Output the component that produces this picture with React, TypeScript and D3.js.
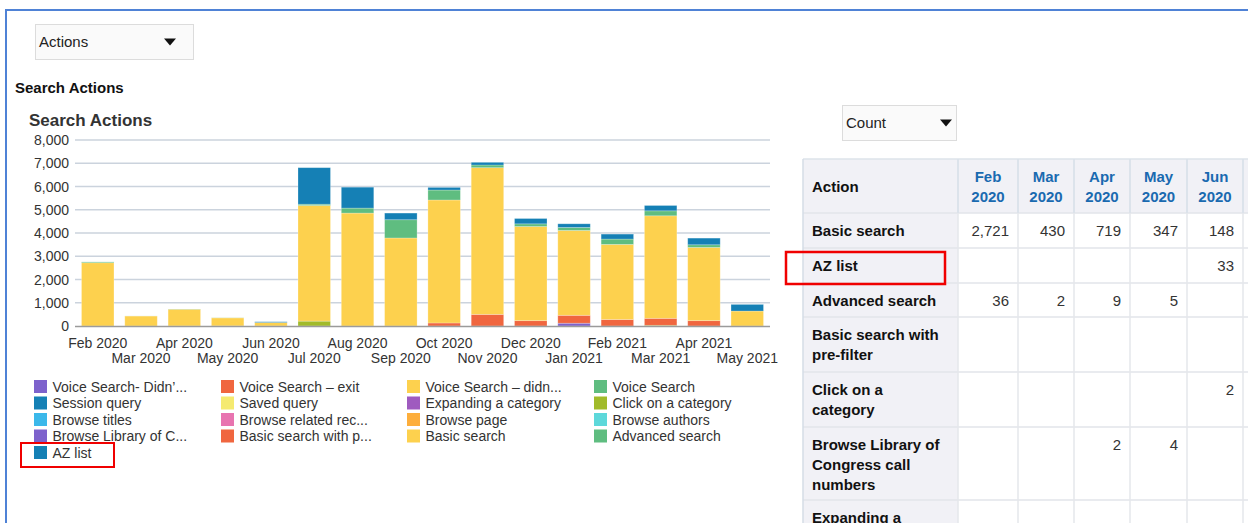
import * as d3 from 'd3';

const FONT = '"Liberation Sans", Arial, Helvetica, sans-serif';

const months = [
  'Feb 2020', 'Mar 2020', 'Apr 2020', 'May 2020', 'Jun 2020', 'Jul 2020', 'Aug 2020', 'Sep 2020',
  'Oct 2020', 'Nov 2020', 'Dec 2020', 'Jan 2021', 'Feb 2021', 'Mar 2021', 'Apr 2021', 'May 2021',
];

// legend order = stacking order (first at the bottom)
const seriesNames = [
  'Voice Search- Didn\u2019...', 'Voice Search \u2013 exit', 'Voice Search \u2013 didn...', 'Voice Search',
  'Session query', 'Saved query', 'Expanding a category', 'Click on a category',
  'Browse titles', 'Browse related rec...', 'Browse page', 'Browse authors',
  'Browse Library of C...', 'Basic search with p...', 'Basic search', 'Advanced search',
  'AZ list',
];
const seriesColors = [
  '#7d62cc', '#f0663f', '#fdd14e', '#5fbd80',
  '#1580b5', '#f5ea70', '#9f5bbf', '#a1bb2a',
  '#3bb8ea', '#e874b0', '#fdae3b', '#5dd8da',
  '#7d62cc', '#f0663f', '#fdd14e', '#5fbd80',
  '#1580b5',
];

const clickOnCategory = [0, 0, 0, 0, 2, 210, 0, 0, 0, 0, 0, 0, 0, 30, 0, 0];
const browseLibrary = [0, 0, 2, 4, 0, 0, 0, 0, 0, 0, 0, 120, 0, 0, 0, 0];
const basicPreFilter = [0, 0, 0, 0, 0, 0, 0, 0, 130, 500, 230, 340, 280, 300, 230, 0];
const basicSearch = [2721, 430, 719, 347, 148, 4972, 4857, 3786, 5290, 6310, 4050, 3650, 3230, 4410, 3150, 643];
const advancedSearch = [36, 2, 9, 5, 0, 57, 214, 785, 428, 115, 114, 129, 229, 214, 114, 0];
const azList = [0, 0, 0, 0, 33, 1571, 900, 286, 114, 114, 229, 157, 214, 229, 286, 286];

const seriesValues: Record<string, number[]> = {
  'Click on a category': clickOnCategory,
  'Browse Library of C...': browseLibrary,
  'Basic search with p...': basicPreFilter,
  'Basic search': basicSearch,
  'Advanced search': advancedSearch,
  'AZ list': azList,
};

const yTicks = [0, 1000, 2000, 3000, 4000, 5000, 6000, 7000, 8000];

// table on the right
const tableMonths = [['Feb', '2020'], ['Mar', '2020'], ['Apr', '2020'], ['May', '2020'], ['Jun', '2020']];
const tableLabels = [
  ['Basic search'],
  ['AZ list'],
  ['Advanced search'],
  ['Basic search with', 'pre-filter'],
  ['Click on a', 'category'],
  ['Browse Library of', 'Congress call', 'numbers'],
  ['Expanding a', 'category'],
];
const tableValues: (number | null)[][] = [
  [2721, 430, 719, 347, 148],
  [null, null, null, null, 33],
  [36, 2, 9, 5, null],
  [null, null, null, null, null],
  [null, null, null, null, 2],
  [null, null, 2, 4, null],
  [null, null, null, null, null],
];

const colEdges = [803, 958, 1018, 1074, 1130, 1187, 1243, 1320];
const rowEdges = [159, 213, 248, 283, 317, 372, 427, 500, 570];

function Dropdown({ x, y, w, h, label, arrowX }: { x: number; y: number; w: number; h: number; label: string; arrowX: number }) {
  const ay = y + h / 2 - 3;
  return (
    <g>
      <rect x={x + 0.5} y={y + 0.5} width={w} height={h} fill="#fafafa" stroke="#dcdcdc" />
      <text x={x + 4} y={y + h / 2 + 5.5} fontSize={15} fill="#222">{label}</text>
      <path d={`M${arrowX},${ay} L${arrowX + 12},${ay} L${arrowX + 6},${ay + 7} Z`} fill="#111" />
    </g>
  );
}

export default function App() {
  const x = d3.scaleBand<string>().domain(months).range([75, 770]).paddingInner(0.25).paddingOuter(0.15);
  const y = d3.scaleLinear().domain([0, 8000]).range([326, 140]);

  const rows = months.map((m, i) => {
    const r: Record<string, number | string> = { month: m };
    seriesNames.forEach((s) => (r[s] = seriesValues[s] ? seriesValues[s][i] : 0));
    return r;
  });
  const stacked = d3.stack<Record<string, number | string>>().keys(seriesNames)(rows as any);
  const fmt = d3.format(',');

  return (
    <svg width={1248} height={523} style={{ position: 'absolute', left: 0, top: 0, fontFamily: FONT }}>
      <rect width={1248} height={523} fill="#fff" />
      {/* frame */}
      <path d="M6,523 L6,10 L1248,10" fill="none" stroke="#4f82d6" strokeWidth={2} />

      <Dropdown x={35} y={24} w={158} h={35} label="Actions" arrowX={164} />
      <text x={15} y={93} fontSize={15} fontWeight="bold" fill="#111">Search Actions</text>
      <text x={29} y={126} fontSize={17} fontWeight="bold" fill="#333">Search Actions</text>

      {/* grid + y ticks */}
      {yTicks.map((t) => (
        <g key={t}>
          {t > 0 && <line x1={75} x2={770} y1={y(t)} y2={y(t)} stroke="#cbd3dd" strokeWidth={1.3} />}
          <text x={69} y={y(t) + 5} fontSize={14} fill="#333" textAnchor="end">{fmt(t)}</text>
        </g>
      ))}

      {/* bars */}
      {stacked.map((layer, si) => (
        <g key={layer.key} fill={seriesColors[si]}>
          {layer.map((d, i) =>
            d[1] - d[0] > 0 ? (
              <rect
                key={i}
                x={x(months[i])!}
                y={y(d[1])}
                width={x.bandwidth()}
                height={y(d[0]) - y(d[1])}
                stroke="#ffffff"
                strokeOpacity={0.3}
                strokeWidth={0.8}
              />
            ) : null,
          )}
        </g>
      ))}
      <line x1={75} x2={770} y1={326.5} y2={326.5} stroke="#9b9b9b" strokeWidth={1.5} />

      {/* x labels, staggered */}
      {months.map((m, i) => (
        <text
          key={m}
          x={x(m)! + x.bandwidth() / 2}
          y={i % 2 === 0 ? 348 : 363}
          fontSize={14}
          fill="#333"
          textAnchor="middle"
        >
          {m}
        </text>
      ))}

      {/* legend */}
      {seriesNames.map((s, i) => {
        const col = i % 4;
        const row = Math.floor(i / 4);
        const lx = [34, 221, 407, 594][col];
        const ly = 386.5 + row * 16.5;
        return (
          <g key={s + i}>
            <rect x={lx} y={ly - 6.5} width={13} height={13} fill={seriesColors[i]} />
            <text x={lx + 18.5} y={ly + 5} fontSize={14} fill="#333">{s}</text>
          </g>
        );
      })}
      <rect x={21} y={443} width={93} height={24} fill="none" stroke="#f00000" strokeWidth={2} />

      {/* right side */}
      <Dropdown x={842} y={105} w={114} h={35} label="Count" arrowX={940} />

      {/* table backgrounds */}
      <rect x={colEdges[0]} y={rowEdges[0]} width={1248 - colEdges[0]} height={rowEdges[1] - rowEdges[0]} fill="#f1f1f6" />
      <rect x={colEdges[0]} y={rowEdges[1]} width={colEdges[1] - colEdges[0]} height={523 - rowEdges[1]} fill="#f1f1f6" />
      {rowEdges.slice(1, -1).map((ry) => (
        <line key={ry} x1={colEdges[0]} x2={1248} y1={ry} y2={ry} stroke="#e2e5ea" strokeWidth={1.5} />
      ))}
      <line x1={colEdges[0]} x2={1248} y1={rowEdges[0]} y2={rowEdges[0]} stroke="#dde3ea" strokeWidth={1.5} />
      {colEdges.slice(0, -1).map((cx, i) => (
        <line
          key={cx}
          x1={cx}
          x2={cx}
          y1={rowEdges[0]}
          y2={523}
          stroke={i === 0 ? '#d5dce6' : '#e4e7eb'}
          strokeWidth={1.5}
        />
      ))}
      {[1, 2, 3, 4, 5, 6].map((i) => (
        <line key={i} x1={colEdges[i]} x2={colEdges[i]} y1={rowEdges[0]} y2={rowEdges[1]} stroke="#d8e0ea" strokeWidth={1.5} />
      ))}

      <text x={812} y={192} fontSize={15} fontWeight="bold" fill="#111">Action</text>
      {tableMonths.map((lines, c) => {
        const cx = (colEdges[c + 1] + colEdges[c + 2]) / 2;
        return (
          <text key={c} x={cx} fontSize={15} fontWeight="bold" fill="#1a6ab0" textAnchor="middle">
            <tspan x={cx} y={182}>{lines[0]}</tspan>
            <tspan x={cx} y={202}>{lines[1]}</tspan>
          </text>
        );
      })}
      {tableLabels.map((lines, r) => (
        <text key={r} fontSize={15} fontWeight="bold" fill="#111">
          {lines.map((ln, k) => (
            <tspan key={k} x={812} y={rowEdges[r + 1] + 23 + k * 20}>{ln}</tspan>
          ))}
        </text>
      ))}
      {tableValues.map((vals, r) =>
        vals.map((v, c) =>
          v == null ? null : (
            <text
              key={`${r}-${c}`}
              x={colEdges[c + 2] - 9}
              y={rowEdges[r + 1] + 23}
              fontSize={15}
              fill="#333"
              textAnchor="end"
            >
              {fmt(v)}
            </text>
          ),
        ),
      )}
      <rect x={786} y={252} width={159} height={32} fill="none" stroke="#f00000" strokeWidth={2.5} />
    </svg>
  );
}
